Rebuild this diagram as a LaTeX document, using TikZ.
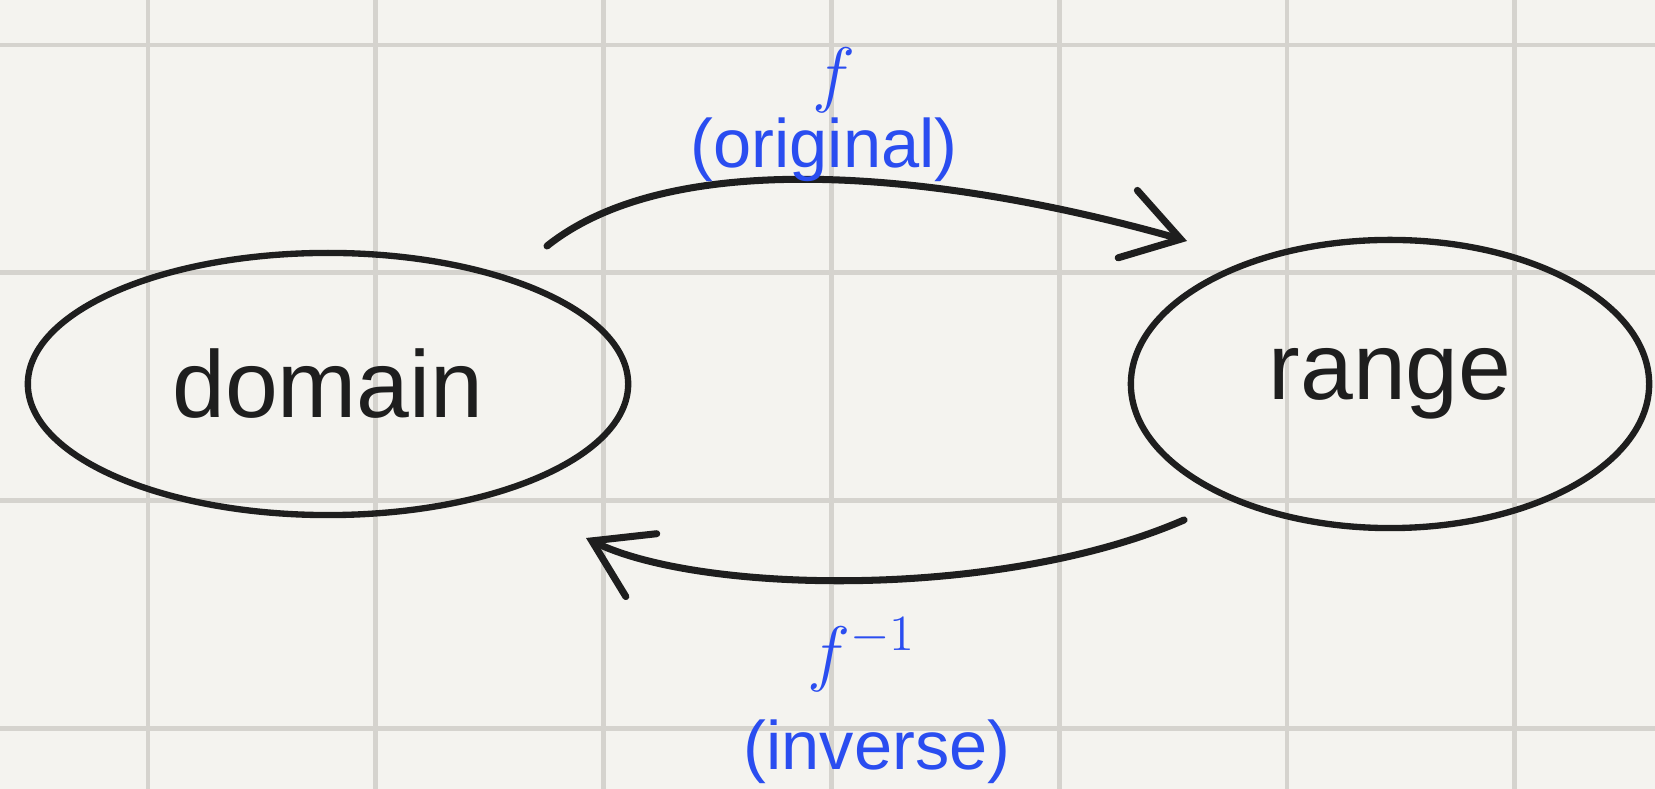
\documentclass[tikz,border=0pt]{standalone}
\usepackage{fontspec}
\setmainfont{Liberation Sans}
\usetikzlibrary{shapes.geometric,arrows.meta}
\definecolor{paper}{HTML}{F4F3EF}
\definecolor{gridc}{HTML}{D5D3CE}
\definecolor{ink}{HTML}{1E1E1E}
\definecolor{pen}{HTML}{2A4DF0}
\begin{document}
\begin{tikzpicture}[x=0.01cm,y=-0.01cm,
  set/.style={ellipse, draw=ink, line width=1.8pt, inner sep=0pt, text=ink,
    font=\fontsize{27}{30}\selectfont},
  mapto/.style={draw=ink, line width=2pt, line cap=round,
    -{Straight Barb[length=5.5mm,width=7mm,line cap=round]}},
  lbl/.style={text=pen, inner sep=0pt, font=\fontsize{19.5}{22}\selectfont},
  gridline/.style={draw=gridc, line width=1.4pt}]
\fill[paper] (0,0) rectangle (1655,789);
\useasboundingbox (0,0) rectangle (1655,789);
\foreach \i in {0,...,6} \draw[gridline] ({148+227.8*\i},0) -- ({148+227.8*\i},789);
\foreach \j in {0,...,3} \draw[gridline] (0,{45+227.8*\j}) -- (1655,{45+227.8*\j});
% sets
\node[set, minimum width=6cm, minimum height=2.62cm] (dom) at (328,384) {domain};
\node[set, minimum width=5.18cm, minimum height=2.88cm] (rng) at (1390,384) {range};
% connector ends
\coordinate (fs) at (547,246);
\coordinate (ft) at (1187,241);
\coordinate (gs) at (1184,520);
\coordinate (gt) at (586,538);
\draw[mapto] (fs) .. controls (680,140) and (966,178) .. (ft);
\draw[mapto] (gs) .. controls (1000,600) and (700,594) .. (gt);
% labels
\node[lbl, font=\fontsize{21}{23}\selectfont] (f) at (834,80) {$f$};
\node[lbl] (orig) at (824,150) {(original)};
\node[lbl, font=\fontsize{21}{23}\selectfont] (finv) at (862,655) {$f^{-1}$};
\node[lbl] (inv) at (877,752) {(inverse)};
\end{tikzpicture}
\end{document}
